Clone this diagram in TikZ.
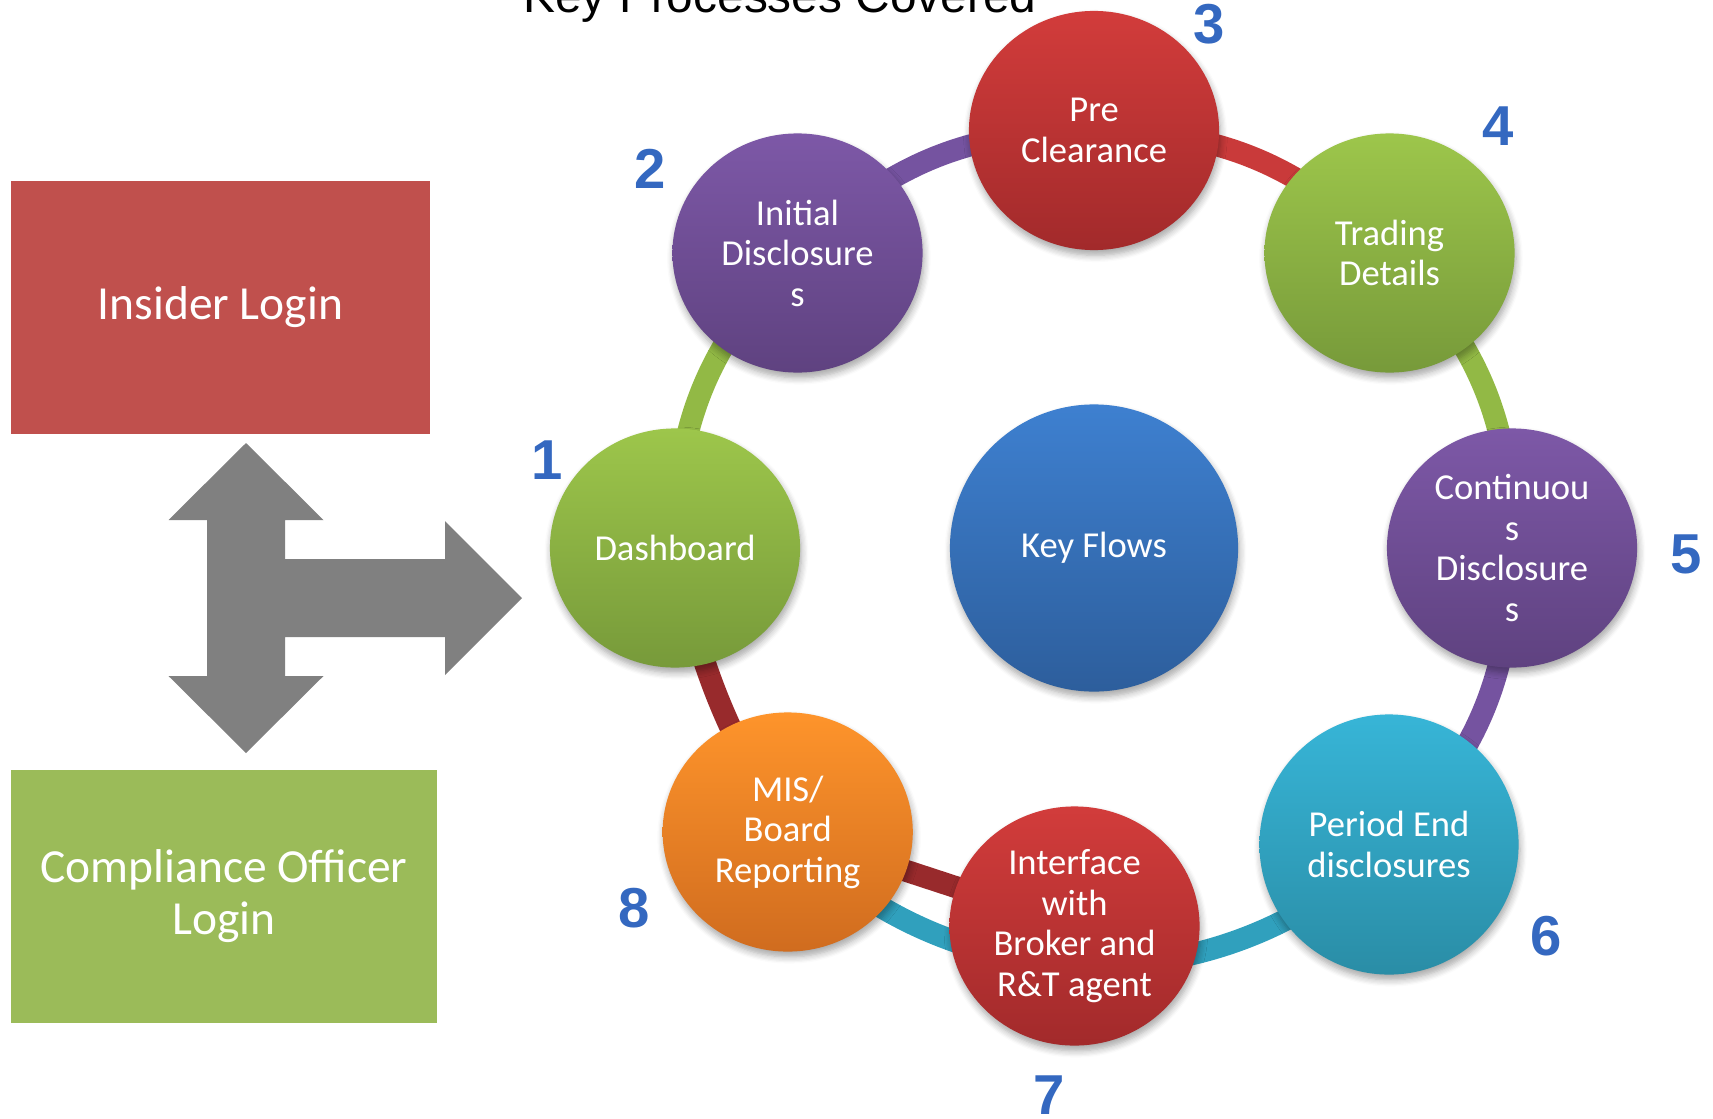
\documentclass[tikz,border=0pt]{standalone}
\usepackage{fontspec}
\setmainfont{Carlito}
\newfontfamily\arialfont{Liberation Sans}
\usetikzlibrary{shapes.geometric,backgrounds,shadows.blur}

\definecolor{insiderred}{HTML}{C0504D}
\definecolor{officergreen}{HTML}{9BBB59}
\definecolor{arrowgray}{HTML}{808080}
\definecolor{greentop}{HTML}{9DC64B}
\definecolor{greenbot}{HTML}{779A3A}
\definecolor{purpletop}{HTML}{7D58A7}
\definecolor{purplebot}{HTML}{5F4280}
\definecolor{redtop}{HTML}{D23C3B}
\definecolor{redbot}{HTML}{A22A2B}
\definecolor{tealtop}{HTML}{37B5D7}
\definecolor{tealbot}{HTML}{2A8DA6}
\definecolor{orangetop}{HTML}{FE942B}
\definecolor{orangebot}{HTML}{D06C1F}
\definecolor{bluetop}{HTML}{3E80D0}
\definecolor{bluebot}{HTML}{2D5E9C}
\definecolor{bandgreen}{HTML}{92B945}
\definecolor{bandpurple}{HTML}{7553A0}
\definecolor{bandred}{HTML}{C93A3A}
\definecolor{bandteal}{HTML}{30A0BD}
\definecolor{banddarkred}{HTML}{982A2C}
\definecolor{numblue}{HTML}{3468C0}

\tikzset{
  ball/.style={ellipse, inner sep=0pt, minimum width=2.5cm, minimum height=2.39cm,
    align=center, text=white, font=\fontsize{10.4}{11.5}\selectfont,
    blur shadow={shadow xshift=0.4pt, shadow yshift=-1.5pt, shadow opacity=35, shadow blur steps=6}},
  greenball/.style={ball, top color=greentop, bottom color=greenbot},
  purpleball/.style={ball, top color=purpletop, bottom color=purplebot},
  redball/.style={ball, top color=redtop, bottom color=redbot},
  tealball/.style={ball, top color=tealtop, bottom color=tealbot},
  orangeball/.style={ball, top color=orangetop, bottom color=orangebot},
  blueball/.style={ball, top color=bluetop, bottom color=bluebot},
  band/.style={line width=2.2mm},
  loginbox/.style={rectangle, inner sep=0pt, text=white, align=center,
    minimum height=2.53cm, font=\fontsize{13.5}{14.8}\selectfont},
  numlabel/.style={text=numblue, font=\arialfont\bfseries\fontsize{16}{16}\selectfont}
}

\begin{document}
\begin{tikzpicture}[x=0.01cm, y=0.01cm]
    \useasboundingbox (0,0) rectangle (1713,-1118);

    % title, cut by the top edge
    \node[anchor=base, font=\arialfont\fontsize{13.6}{16}\selectfont] (title) at (780,-12) {Key Processes Covered};

    % the two logins and the arrow
    \node[loginbox, fill=insiderred, minimum width=4.19cm] (insider) at (220.5,-307.5) {Insider Login};
    \node[loginbox, fill=officergreen, minimum width=4.26cm] (compliance) at (224,-896.5) {Compliance Officer\\Login};
    \fill[arrowgray] (246,-443) -- (323.5,-520) -- (285,-520) -- (285,-559) -- (445,-559)
        -- (445,-521) -- (522,-598) -- (445,-675) -- (445,-637) -- (285,-637) -- (285,-676)
        -- (323.5,-676) -- (246,-753) -- (168.5,-676) -- (207,-676) -- (207,-520)
        -- (168.5,-520) -- cycle;

    % the ring
    \node[blueball, minimum width=2.88cm, minimum height=2.87cm] (keyflows) at (1094,-548) {Key Flows};
    \node[greenball] (dash) at (675,-548) {Dashboard};
    \node[purpleball] (initdisc) at (797.5,-253) {Initial\\Disclosure\\s};
    \node[redball] (preclear) at (1094,-130.5) {Pre\\Clearance};
    \node[greenball] (trading) at (1389.5,-253) {Trading\\Details};
    \node[purpleball] (contdisc) at (1512,-548) {Continuou\\s\\Disclosure\\s};
    \node[tealball, minimum width=2.59cm, minimum height=2.6cm] (periodend) at (1389,-844.5) {Period End\\disclosures};
    \node[redball] (iface) at (1074.5,-926) {Interface\\with\\Broker and\\R\&T agent};
    \node[orangeball] (mis) at (787.7,-832) {MIS/\\Board\\Reporting};

    \begin{scope}[on background layer]
        \draw[band, bandgreen] (dash.center) to[bend left=22.5] (initdisc.center);
        \draw[band, bandpurple] (initdisc.center) to[bend left=22.5] (preclear.center);
        \draw[band, bandred] (preclear.center) to[bend left=22.5] (trading.center);
        \draw[band, bandgreen] (trading.center) to[bend left=22.5] (contdisc.center);
        \draw[band, bandpurple] (contdisc.center) to[bend left=22.5] (periodend.center);
        \draw[band, bandteal] (periodend.center) to[out=-135, in=-47] (mis.center);
        \draw[band, banddarkred] (dash.center) to[bend right=10] (mis.center);
        \draw[band, banddarkred] (mis.center) -- (iface.center);
    \end{scope}

    % step numbers
    \node[numlabel] (n1) at (547,-460) {1};
    \node[numlabel] (n2) at (650,-169) {2};
    \node[numlabel] (n3) at (1209,-24) {3};
    \node[numlabel] (n4) at (1498,-126) {4};
    \node[numlabel] (n5) at (1686,-554) {5};
    \node[numlabel] (n6) at (1546,-936) {6};
    \node[numlabel] (n7) at (1049,-1095) {7};
    \node[numlabel] (n8) at (634,-908) {8};
\end{tikzpicture}
\end{document}
